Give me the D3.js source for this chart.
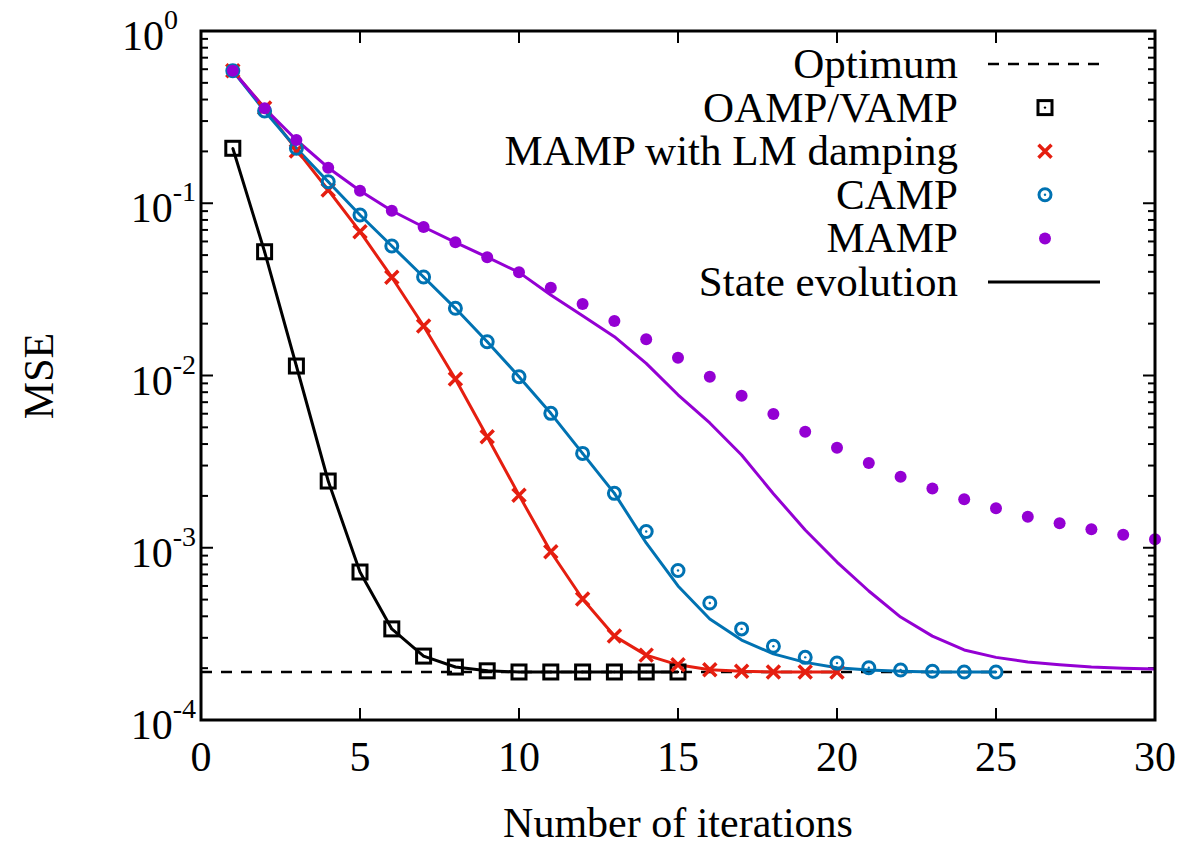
<!DOCTYPE html>
<html lang="en">
<head>
<meta charset="UTF-8">
<title>MSE vs number of iterations</title>
<script src="https://d3js.org/d3.v7.min.js"></script>
<style>
  body { margin: 0; background: #fff; }
  text { font-family: "Liberation Serif", "Times New Roman", serif; fill: #000; }
</style>
</head>
<body>
<script>

// values (MSE per iteration, iteration = index + 1)
var optimum = 1.9e-4;

var oampMse = [0.2085, 0.0523, 0.01135, 0.00244, 0.000723, 0.000338, 0.000235, 0.000203,
               0.000193, 0.00019, 0.00019, 0.00019, 0.00019, 0.00019, 0.00019];
var oampSe  = [0.2085, 0.0523, 0.01135, 0.00244, 0.000723, 0.000338, 0.000235, 0.000203,
               0.000193, 0.00019, 0.00019, 0.00019, 0.00019, 0.00019, 0.00019];

var lmMse = [0.588, 0.357, 0.201, 0.1194, 0.0684, 0.0372, 0.01938, 0.00954, 0.00441, 0.00202,
             0.000948, 0.000504, 0.000307, 0.000238, 0.000209, 0.000196, 0.000192, 0.00019,
             0.00019, 0.00019];
var lmSe  = [0.588, 0.357, 0.205, 0.1194, 0.0684, 0.0372, 0.01938, 0.00954, 0.00441, 0.00202,
             0.000948, 0.000504, 0.000307, 0.000238, 0.000209, 0.000196, 0.000192, 0.00019,
             0.00019, 0.00019];

var campMse = [0.588, 0.343, 0.2085, 0.1334, 0.0855, 0.0565, 0.0373, 0.02455, 0.01571, 0.00984,
               0.00603, 0.00353, 0.00207, 0.001243, 0.000738, 0.000478, 0.000338, 0.000268,
               0.000231, 0.000214, 0.000201, 0.000195, 0.000192, 0.00019, 0.00019];
var campSe  = [0.588, 0.343, 0.2085, 0.1334, 0.0855, 0.0565, 0.0373, 0.02455, 0.01571, 0.00984,
               0.00603, 0.00353, 0.00207, 0.001066, 0.0006, 0.000386, 0.000291, 0.000242,
               0.000216, 0.000201, 0.000195, 0.000192, 0.00019, 0.00019, 0.00019];

var mampMse = [0.588, 0.3557, 0.2329, 0.1608, 0.1183, 0.0905, 0.0728, 0.0593, 0.0486, 0.0397,
               0.0323, 0.026, 0.0207, 0.01622, 0.01269, 0.00984, 0.00762, 0.00598, 0.00472,
               0.00381, 0.0031, 0.002585, 0.002208, 0.001913, 0.001694, 0.001515, 0.001387,
               0.00128, 0.00119, 0.00112];
var mampSe  = [0.588, 0.3557, 0.2329, 0.1608, 0.1183, 0.0905, 0.0728, 0.0593, 0.0486, 0.0397,
               0.0293, 0.0222, 0.0168, 0.01177, 0.00773, 0.0053, 0.003455, 0.00206, 0.001268,
               0.000826, 0.000561, 0.000396, 0.000307, 0.000255, 0.000231, 0.000217, 0.000209,
               0.000203, 0.0002, 0.000198];

var xTicks = [0, 5, 10, 15, 20, 25, 30];
var yDecades = [-4, -3, -2, -1, 0];

var width = 1185,
    height = 848;

var series = [
    {name: "OAMP/VAMP", color: "#000000", mse: oampMse, se: oampSe, marker: "square"},
    {name: "MAMP with LM damping", color: "#e51e10", mse: lmMse, se: lmSe, marker: "cross"},
    {name: "CAMP", color: "#0072b2", mse: campMse, se: campSe, marker: "circle"},
    {name: "MAMP", color: "#9400d3", mse: mampMse, se: mampSe, marker: "dot"}
];

var svg = d3.select("body").append("svg")
    .attr("width", width)
    .attr("height", height);

var x = d3.scaleLinear().domain([0, 30]).range([201, 1155]);
var y = d3.scaleLog().domain([1e-4, 1]).range([720, 31]);

// ticks (inside, mirrored)
var minor = [];
yDecades.slice(0, -1).forEach(function(k) {
    for (var m = 2; m <= 9; m++) minor.push(m * Math.pow(10, k));
});
var majors = yDecades.map(function(k) { return Math.pow(10, k); });

var ticks = svg.append("g").attr("stroke", "#000").attr("stroke-width", 2);
[[201, 1], [1155, -1]].forEach(function(side) {
    ticks.selectAll(null).data(majors).enter().append("line")
        .attr("x1", side[0]).attr("x2", side[0] + side[1] * 12)
        .attr("y1", d => y(d)).attr("y2", d => y(d));
    ticks.selectAll(null).data(minor).enter().append("line")
        .attr("x1", side[0]).attr("x2", side[0] + side[1] * 7)
        .attr("y1", d => y(d)).attr("y2", d => y(d));
});
[[720, -1], [31, 1]].forEach(function(side) {
    ticks.selectAll(null).data(xTicks).enter().append("line")
        .attr("x1", d => x(d)).attr("x2", d => x(d))
        .attr("y1", side[0]).attr("y2", side[0] + side[1] * 12);
});

// tick labels
svg.append("g").selectAll("text").data(xTicks).enter().append("text")
    .attr("x", d => x(d))
    .attr("y", 771)
    .attr("text-anchor", "middle")
    .style("font-size", "42px")
    .text(d => d);

var yl = svg.append("g").selectAll("text").data(yDecades).enter().append("text")
    .attr("x", d => d === 0 ? 178 : 196)
    .attr("y", d => y(Math.pow(10, d)) + 19)
    .attr("text-anchor", "end")
    .style("font-size", "42px");
yl.append("tspan").text("10");
yl.append("tspan").attr("dy", -21).style("font-size", "28px").text(d => d);

svg.append("text")
    .attr("x", 678).attr("y", 837)
    .attr("text-anchor", "middle")
    .style("font-size", "42px")
    .text("Number of iterations");

svg.append("text")
    .attr("transform", "translate(53,376) rotate(-90)")
    .attr("text-anchor", "middle")
    .style("font-size", "42px")
    .text("MSE");

// optimum
svg.append("line")
    .attr("x1", x(0)).attr("x2", x(30))
    .attr("y1", y(optimum)).attr("y2", y(optimum))
    .attr("stroke", "#000").attr("stroke-width", 2.5)
    .attr("stroke-dasharray", "11,9");

function drawMarker(g, type, color) {
    if (type === "square") {
        g.append("rect").attr("x", -7).attr("y", -7).attr("width", 14).attr("height", 14)
            .attr("fill", "none").attr("stroke", color).attr("stroke-width", 3);
        g.append("circle").attr("r", 1.2).attr("fill", color);
    } else if (type === "cross") {
        g.append("path").attr("d", "M-6.5,-6.5L6.5,6.5M-6.5,6.5L6.5,-6.5")
            .attr("stroke", color).attr("stroke-width", 3.5);
    } else if (type === "circle") {
        g.append("circle").attr("r", 6)
            .attr("fill", "none").attr("stroke", color).attr("stroke-width", 3);
        g.append("circle").attr("r", 1.2).attr("fill", color);
    } else {
        g.append("circle").attr("r", 6).attr("fill", color);
    }
}

var line = d3.line()
    .x((d, i) => x(i + 1))
    .y(d => y(d));

series.forEach(function(s) {
    svg.append("path")
        .datum(s.se)
        .attr("fill", "none")
        .attr("stroke", s.color)
        .attr("stroke-width", 3)
        .attr("stroke-linejoin", "round")
        .attr("d", line);
});

series.forEach(function(s) {
    svg.append("g").selectAll("g").data(s.mse).enter().append("g")
        .attr("transform", (d, i) => "translate(" + x(i + 1) + "," + y(d) + ")")
        .each(function() { drawMarker(d3.select(this), s.marker, s.color); });
});

// frame
svg.append("rect")
    .attr("x", 201).attr("y", 31)
    .attr("width", 954).attr("height", 689)
    .attr("fill", "none").attr("stroke", "#000").attr("stroke-width", 3);

// legend
var legendItems = [{name: "Optimum", kind: "dash"}]
    .concat(series.map(s => ({name: s.name, kind: s.marker, color: s.color})))
    .concat([{name: "State evolution", kind: "line"}]);

var legend = svg.append("g").selectAll("g").data(legendItems).enter().append("g")
    .attr("transform", (d, i) => "translate(0," + (64 + i * 43.6) + ")");

legend.append("text")
    .attr("x", 958).attr("y", 14)
    .attr("text-anchor", "end")
    .style("font-size", "43px")
    .text(d => d.name);

legend.each(function(d) {
    var g = d3.select(this);
    if (d.kind === "dash" || d.kind === "line") {
        g.append("line").attr("x1", 988).attr("x2", 1100).attr("y1", 0).attr("y2", 0)
            .attr("stroke", "#000").attr("stroke-width", d.kind === "dash" ? 2.5 : 3)
            .attr("stroke-dasharray", d.kind === "dash" ? "11,9" : null);
    } else {
        drawMarker(g.append("g").attr("transform", "translate(1045,0)"), d.kind, d.color);
    }
});

</script>
</body>
</html>
